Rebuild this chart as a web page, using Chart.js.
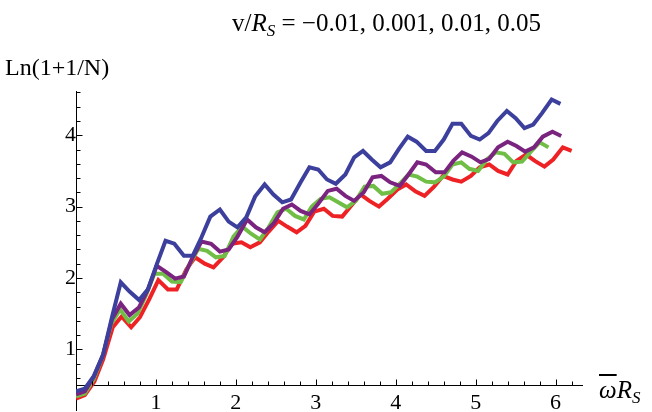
<!DOCTYPE html>
<html><head><meta charset="utf-8">
<script src="https://cdn.jsdelivr.net/npm/chart.js@4"></script>
<style>
body{margin:0;background:#fff;}
#wrap{position:relative;width:652px;height:412px;overflow:hidden;}
canvas{position:absolute;left:0;top:0;}
.t{position:absolute;font-family:"Liberation Serif","Times New Roman",serif;white-space:nowrap;color:#000;}
.sub{position:relative;top:5px;}
</style></head><body>
<div id="wrap">
<canvas id="c" width="652" height="412"></canvas>
<div class="t" id="title" style="left:232px;top:10px;font-size:25px;line-height:25px">v/<i>R</i><span class="sub" style="font-size:17px"><i>S</i></span> = −0.01, 0.001, 0.01, 0.05</div>
<div class="t" id="ylab" style="left:5px;top:55px;font-size:24px;line-height:24px">Ln(1+1/N)</div>
<div class="t" id="xlab" style="left:599px;top:377px;font-size:25px;line-height:25px"><i style="text-decoration:overline;text-decoration-thickness:1.5px">ω</i><i>R</i><span class="sub" style="font-size:17px"><i>S</i></span></div>
</div>
<script>
const xTickLabels = [1, 2, 3, 4, 5, 6];
const yTickLabels = [1, 2, 3, 4];

const xBlue = [0,0.11,0.22,0.34,0.45,0.56,0.67,0.79,0.90,1.01,1.12,1.23,1.35,1.46,1.57,1.68,1.80,1.91,2.02,2.13,2.24,2.36,2.47,2.58,2.69,2.81,2.92,3.03,3.14,3.25,3.37,3.48,3.59,3.70,3.81,3.93,4.04,4.15,4.26,4.38,4.49,4.60,4.71,4.82,4.94,5.05,5.16,5.27,5.39,5.50,5.61,5.72,5.83,5.95,6.06];
const yBlue = [0.41,0.45,0.62,0.93,1.45,1.94,1.81,1.69,1.84,2.19,2.52,2.48,2.31,2.31,2.57,2.86,2.96,2.79,2.71,2.85,3.14,3.31,3.17,3.06,3.10,3.34,3.55,3.52,3.38,3.32,3.45,3.69,3.78,3.66,3.55,3.62,3.81,3.98,3.91,3.78,3.78,3.94,4.16,4.16,3.99,3.94,4.03,4.20,4.34,4.24,4.10,4.15,4.31,4.50,4.44];

const xPurple = [0,0.11,0.22,0.34,0.45,0.56,0.67,0.79,0.90,1.01,1.12,1.24,1.35,1.46,1.57,1.69,1.80,1.91,2.02,2.14,2.25,2.36,2.47,2.59,2.70,2.81,2.92,3.03,3.15,3.26,3.37,3.48,3.60,3.71,3.82,3.93,4.05,4.16,4.27,4.38,4.50,4.61,4.72,4.83,4.95,5.06,5.17,5.28,5.40,5.51,5.62,5.73,5.84,5.96,6.07];
const yPurple = [0.37,0.41,0.61,0.92,1.42,1.64,1.48,1.59,1.84,2.17,2.09,1.99,2.02,2.29,2.51,2.48,2.37,2.40,2.58,2.82,2.71,2.64,2.76,2.97,3.03,2.94,2.89,3.04,3.22,3.25,3.15,3.08,3.20,3.41,3.43,3.34,3.29,3.45,3.62,3.59,3.48,3.48,3.64,3.76,3.70,3.62,3.67,3.83,3.91,3.85,3.77,3.83,3.98,4.05,3.99];

const xGreen = [0,0.11,0.22,0.33,0.44,0.55,0.66,0.77,0.88,0.98,1.09,1.20,1.31,1.42,1.53,1.64,1.75,1.86,1.97,2.08,2.19,2.30,2.41,2.52,2.63,2.74,2.85,2.95,3.06,3.17,3.28,3.39,3.50,3.61,3.72,3.83,3.94,4.05,4.16,4.27,4.38,4.49,4.60,4.71,4.82,4.92,5.03,5.14,5.25,5.36,5.47,5.58,5.69,5.80,5.91];
const yGreen = [0.34,0.38,0.58,0.89,1.35,1.56,1.39,1.50,1.77,2.06,2.06,1.95,1.94,2.19,2.41,2.38,2.29,2.31,2.58,2.72,2.62,2.54,2.71,2.92,2.97,2.87,2.82,3.00,3.11,3.13,3.06,2.99,3.08,3.28,3.29,3.18,3.20,3.32,3.45,3.42,3.35,3.34,3.42,3.59,3.62,3.53,3.50,3.66,3.76,3.74,3.62,3.63,3.77,3.90,3.83];

const xRed = [0,0.11,0.23,0.34,0.46,0.57,0.69,0.80,0.92,1.03,1.15,1.26,1.38,1.49,1.61,1.72,1.84,1.95,2.07,2.18,2.30,2.41,2.53,2.64,2.76,2.87,2.98,3.10,3.21,3.33,3.44,3.56,3.67,3.79,3.90,4.02,4.13,4.25,4.36,4.48,4.59,4.71,4.82,4.94,5.05,5.17,5.28,5.40,5.51,5.63,5.74,5.86,5.97,6.09,6.20];
const yRed = [0.31,0.36,0.55,0.86,1.31,1.46,1.31,1.45,1.71,1.97,1.84,1.84,2.12,2.29,2.20,2.15,2.29,2.48,2.50,2.43,2.50,2.65,2.80,2.72,2.64,2.73,2.93,2.97,2.87,2.86,3.01,3.17,3.08,3.00,3.11,3.24,3.31,3.21,3.15,3.28,3.43,3.38,3.35,3.43,3.55,3.59,3.50,3.45,3.64,3.73,3.64,3.56,3.66,3.83,3.78];

const FONT = 'Liberation Serif';
const pts = (xs, ys) => xs.map((x, i) => ({ x: x, y: ys[i] }));
const fifths = (lo, hi) => { const a = []; for (let k = Math.round(lo * 5); k <= Math.round(hi * 5); k++) a.push(k / 5); return a; };
const xTicks = fifths(0.2, 6.2);
const yTicks = fifths(0.6, 4.6);
const isMajor = v => Math.abs(v - Math.round(v)) < 1e-6;

const inwardTicks = {
  id: 'inwardTicks',
  afterDraw(chart) {
    const { ctx } = chart;
    const xs = chart.scales.x, ys = chart.scales.y;
    const y0 = Math.round(ys.getPixelForValue(0.5)) + 0.5;
    const x0 = Math.round(xs.getPixelForValue(0)) + 0.5;
    ctx.save();
    ctx.strokeStyle = '#000';
    ctx.lineWidth = 1;
    ctx.beginPath();
    xTicks.forEach(v => {
      const p = Math.round(xs.getPixelForValue(v)) + 0.5;
      const L = isMajor(v) ? 6 : 4;
      ctx.moveTo(p, y0); ctx.lineTo(p, y0 - L);
    });
    yTicks.forEach(v => {
      const p = Math.round(ys.getPixelForValue(v)) + 0.5;
      const L = isMajor(v) ? 6 : 4;
      ctx.moveTo(x0, p); ctx.lineTo(x0 + L, p);
    });
    ctx.stroke();
    ctx.restore();
  }
};

const ds = (label, xs, ys, color) => ({
  label: label, data: pts(xs, ys), borderColor: color, backgroundColor: color,
  borderWidth: 4, pointRadius: 0, tension: 0, fill: false
});

new Chart(document.getElementById('c'), {
  type: 'line',
  data: {
    datasets: [
      ds('0.05', xBlue, yBlue, 'rgb(60,64,156)'),
      ds('0.01', xPurple, yPurple, 'rgb(122,36,128)'),
      ds('0.001', xGreen, yGreen, 'rgb(112,190,70)'),
      ds('-0.01', xRed, yRed, 'rgb(238,34,36)')
    ]
  },
  options: {
    responsive: false,
    animation: false,
    devicePixelRatio: 1,
    layout: { padding: { left: 76, right: 70, top: 91, bottom: 2 } },
    plugins: { legend: { display: false }, tooltip: { enabled: false }, title: { display: false } },
    scales: {
      x: {
        type: 'linear', min: 0, max: 6.33, position: { y: 0.5 },
        afterBuildTicks: s => { s.ticks = xTickLabels.map(v => ({ value: v })); },
        afterFit: s => { s.paddingLeft = 0; s.paddingRight = 0; s.paddingTop = 0; s.paddingBottom = 0; },
        grid: { display: false, drawTicks: false },
        border: { display: true, color: '#000', width: 1 },
        ticks: { font: { family: FONT, size: 22 }, color: '#000', padding: 5, maxRotation: 0, autoSkip: false, callback: v => String(v) }
      },
      y: {
        type: 'linear', min: 0.15, max: 4.62, position: { x: 0 },
        afterBuildTicks: s => { s.ticks = yTickLabels.map(v => ({ value: v })); },
        afterFit: s => { s.paddingLeft = 0; s.paddingRight = 0; s.paddingTop = 0; s.paddingBottom = 0; },
        grid: { display: false, drawTicks: false },
        border: { display: true, color: '#000', width: 1 },
        ticks: { font: { family: FONT, size: 22 }, color: '#000', padding: 6, autoSkip: false, callback: v => String(v) }
      }
    }
  },
  plugins: [inwardTicks]
});
</script>
</body></html>
